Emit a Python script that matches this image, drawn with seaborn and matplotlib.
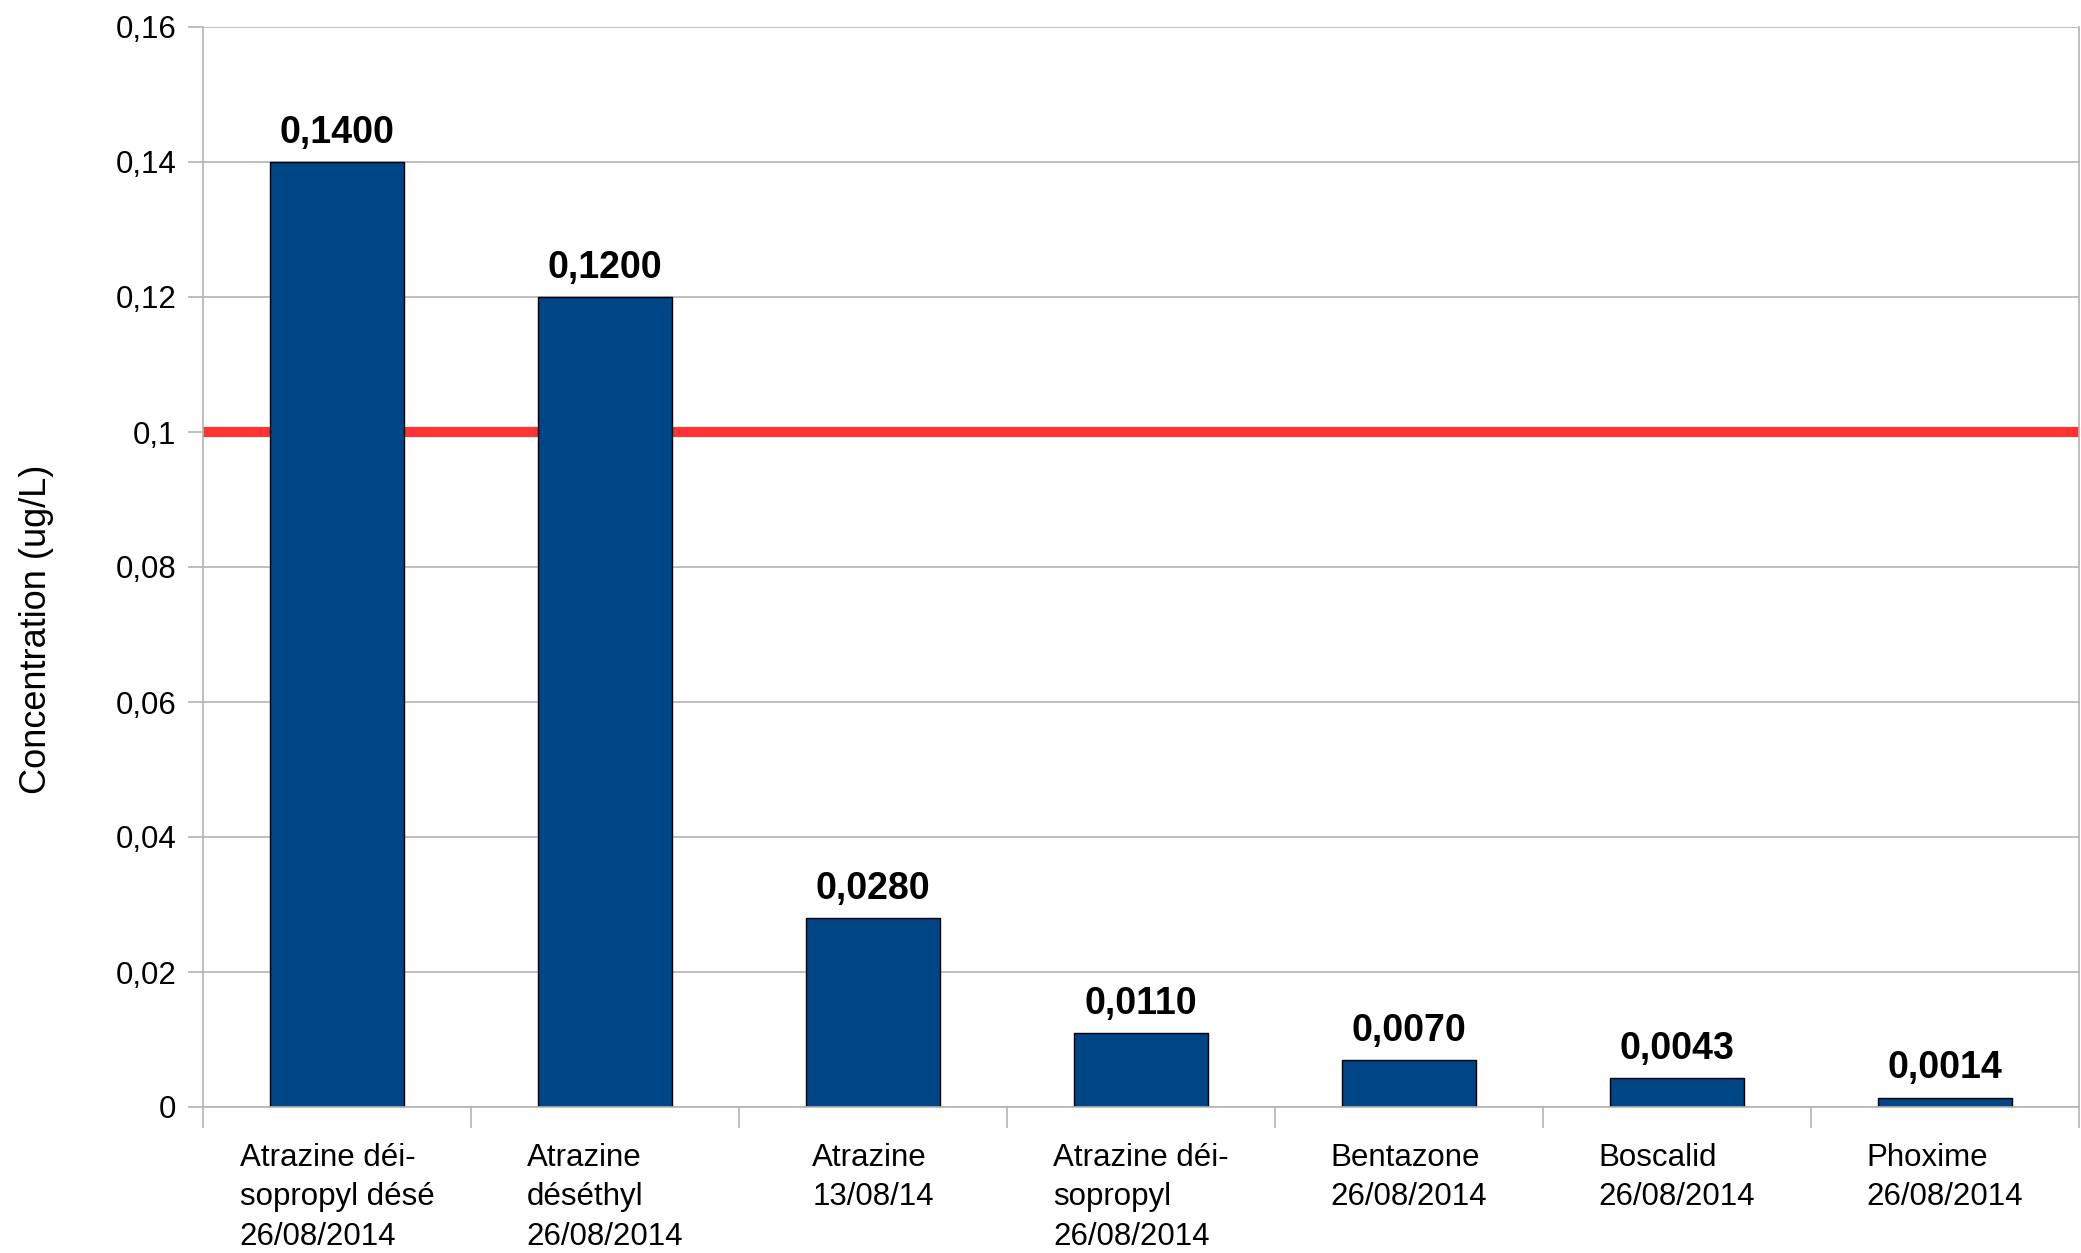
import matplotlib
matplotlib.use("Agg")
import matplotlib.pyplot as plt
import seaborn as sns
import numpy as np

categories = [
    "Atrazine déi-\nsopropyl désé\n26/08/2014",
    "Atrazine\ndéséthyl\n26/08/2014",
    "Atrazine\n13/08/14",
    "Atrazine déi-\nsopropyl\n26/08/2014",
    "Bentazone\n26/08/2014",
    "Boscalid\n26/08/2014",
    "Phoxime\n26/08/2014",
]
values = [0.1400, 0.1200, 0.0280, 0.0110, 0.0070, 0.0043, 0.0014]
value_labels = ["0,1400", "0,1200", "0,0280", "0,0110", "0,0070", "0,0043", "0,0014"]
y_ticks = [0, 0.02, 0.04, 0.06, 0.08, 0.10, 0.12, 0.14, 0.16]
y_tick_labels = ["0", "0,02", "0,04", "0,06", "0,08", "0,1", "0,12", "0,14", "0,16"]
threshold = 0.1
y_title = "Concentration (ug/L)"

sns.set_style("white")
plt.rcParams["font.family"] = ["Liberation Sans", "DejaVu Sans"]
plt.rcParams["text.color"] = "black"
plt.rcParams["xtick.labelcolor"] = "black"
plt.rcParams["ytick.labelcolor"] = "black"

fig = plt.figure(figsize=(20.81, 12.53), dpi=100)
ax = fig.add_axes([203 / 2081, 1 - 1107 / 1253, (2079 - 203) / 2081, (1107 - 27) / 1253])

grid_c = "#b3b3b3"
ax.set_axisbelow(True)
ax.yaxis.grid(True, color=grid_c, linewidth=1.2)
ax.xaxis.grid(False)

ax.axhline(threshold, color="#ff3333", linewidth=7.3, zorder=1)

sns.barplot(x=list(range(len(values))), y=values, color="#004586", saturation=1,
            width=0.5, edgecolor="black", linewidth=1.0, ax=ax, zorder=2)

ax.set_xlim(-0.5, len(values) - 0.5)
ax.set_ylim(0, 0.16)
ax.set_yticks(y_ticks)
ax.set_yticklabels(y_tick_labels, fontsize=22.5, color="black")
ax.tick_params(axis="y", length=11, width=1.2, color=grid_c, pad=8, left=True)

ax.set_xticks(range(len(values)))
ax.set_xticklabels(categories, fontsize=22.5, multialignment="left", linespacing=1.4,
                   color="black")
ax.set_xticks(np.arange(-0.5, len(values), 1.0), minor=True)
ax.tick_params(axis="x", which="major", length=0, pad=26)
ax.tick_params(axis="x", which="minor", length=15, width=1.2, color=grid_c, bottom=True)

for s in ["left", "right", "bottom", "top"]:
    ax.spines[s].set_color(grid_c)
    ax.spines[s].set_linewidth(1.2)
ax.spines["top"].set_visible(False)

for i, (v, lab) in enumerate(zip(values, value_labels)):
    ax.annotate(lab, (i, v), xytext=(0, 8), textcoords="offset points",
                ha="center", va="bottom", fontsize=27, fontweight="bold", color="black")

ax.set_ylabel("")
fig.text(37 / 2081, 1 - 629 / 1253, y_title, rotation=90, fontsize=26,
         ha="center", va="center", color="black")

fig.savefig("out.png", dpi=100)
